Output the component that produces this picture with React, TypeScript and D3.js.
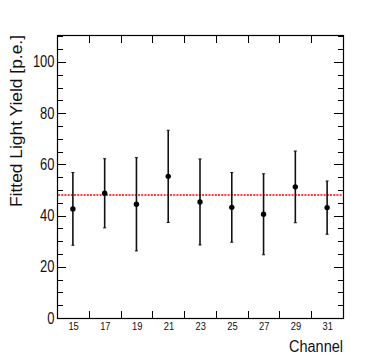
import React, { useEffect, useRef } from "react";
import * as d3 from "d3";

// channel numbers (bin centres) and fitted light yield per channel
const channels = [15, 17, 19, 21, 23, 25, 27, 29, 31];
const yieldVals = [42.6, 48.7, 44.4, 55.3, 45.3, 43.2, 40.5, 51.2, 43.1];
const yieldErrs = [14.2, 13.5, 18.2, 18.0, 16.8, 13.6, 15.8, 14.0, 10.4];
const meanYield = 48.0;

const xTickVals = [16, 18, 20, 22, 24, 26, 28, 30];
const yMajorTicks = [0, 20, 40, 60, 80, 100];
const yMinorTicks = [5, 10, 15, 25, 30, 35, 45, 50, 55, 65, 70, 75, 85, 90, 95, 105, 110];

const W = 382;
const H = 354;
const font = "'Liberation Sans', Arial, Helvetica, sans-serif";

export default function App() {
    const svgRef = useRef<SVGSVGElement>(null);

    useEffect(() => {
        const svg = d3.select(svgRef.current);
        svg.selectAll("*").remove();

        const left = 57, right = 343, top = 35, bottom = 318;

        const x = d3.scaleLinear().domain([14, 32]).range([left, right]);
        const y = d3.scaleLinear().domain([0, 110.5]).range([bottom, top]);

        svg.append("rect").attr("width", W).attr("height", H).attr("fill", "#fff");

        // ticks (ROOT style: inward, mirrored on top / right)
        const tk = svg.append("g").attr("stroke", "#000").attr("stroke-width", 1);
        xTickVals.forEach((v) => {
            const px = Math.round(x(v)) + 0.5;
            tk.append("line").attr("x1", px).attr("x2", px).attr("y1", bottom).attr("y2", bottom - 7);
            tk.append("line").attr("x1", px).attr("x2", px).attr("y1", top).attr("y2", top + 8);
        });
        yMajorTicks.forEach((v) => {
            const py = Math.round(y(v)) + 0.5;
            tk.append("line").attr("x1", left).attr("x2", left + 9).attr("y1", py).attr("y2", py);
            tk.append("line").attr("x1", right).attr("x2", right - 9).attr("y1", py).attr("y2", py);
        });
        yMinorTicks.forEach((v) => {
            const py = Math.round(y(v)) + 0.5;
            tk.append("line").attr("x1", left).attr("x2", left + 6).attr("y1", py).attr("y2", py);
            tk.append("line").attr("x1", right).attr("x2", right - 5).attr("y1", py).attr("y2", py);
        });

        // frame
        svg.append("rect")
            .attr("x", left + 0.5).attr("y", top + 0.5)
            .attr("width", right - left).attr("height", bottom - top)
            .attr("fill", "none").attr("stroke", "#000").attr("stroke-width", 1.2);

        // y tick labels
        svg.append("g").selectAll("text")
            .data(yMajorTicks).enter().append("text")
            .attr("x", left - 2.5)
            .attr("y", (d) => y(d) + 5.6)
            .attr("text-anchor", "end")
            .attr("font-family", font).attr("font-size", 16)
            .attr("fill", "#111")
            .attr("textLength", (d) => String(d).length * 7.2)
            .attr("lengthAdjust", "spacingAndGlyphs")
            .text((d) => d);

        // x labels at bin centres
        svg.append("g").selectAll("text")
            .data(channels).enter().append("text")
            .attr("x", (d) => x(d) + 0.7)
            .attr("y", 330)
            .attr("text-anchor", "middle")
            .attr("font-family", font).attr("font-size", 10.5)
            .attr("fill", "#111")
            .attr("textLength", 10.4)
            .attr("lengthAdjust", "spacingAndGlyphs")
            .text((d) => d);

        // axis titles
        svg.append("text")
            .attr("x", right).attr("y", 351.5)
            .attr("text-anchor", "end")
            .attr("font-family", font).attr("font-size", 16)
            .attr("fill", "#111")
            .attr("textLength", 54).attr("lengthAdjust", "spacingAndGlyphs")
            .text("Channel");
        svg.append("text")
            .attr("transform", `translate(21.5, ${top}) rotate(-90)`)
            .attr("text-anchor", "end")
            .attr("font-family", font).attr("font-size", 16)
            .attr("fill", "#111")
            .attr("textLength", 172).attr("lengthAdjust", "spacingAndGlyphs")
            .text("Fitted Light Yield [p.e.]");

        // mean line
        svg.append("line")
            .attr("x1", left + 1).attr("x2", right - 1)
            .attr("y1", y(meanYield)).attr("y2", y(meanYield))
            .attr("stroke", "#ff0000").attr("stroke-width", 1.5)
            .attr("stroke-dasharray", "2,1.2");

        // error bars + points
        const pts = svg.append("g");
        channels.forEach((c, i) => {
            const cx = x(c);
            const lo = y(yieldVals[i] - yieldErrs[i]);
            const hi = y(yieldVals[i] + yieldErrs[i]);
            pts.append("line").attr("x1", cx).attr("x2", cx).attr("y1", lo).attr("y2", hi)
                .attr("stroke", "#111").attr("stroke-width", 1.6);
            [lo, hi].forEach((py) => {
                pts.append("line").attr("x1", cx - 1.5).attr("x2", cx + 1.5).attr("y1", py).attr("y2", py)
                    .attr("stroke", "#111").attr("stroke-width", 1);
            });
            pts.append("circle").attr("cx", cx).attr("cy", y(yieldVals[i])).attr("r", 2.7).attr("fill", "#000");
        });
    }, []);

    return (
        <svg
            ref={svgRef}
            width={W}
            height={H}
            style={{ position: "absolute", left: 0, top: 0, display: "block" }}
        ></svg>
    );
}
